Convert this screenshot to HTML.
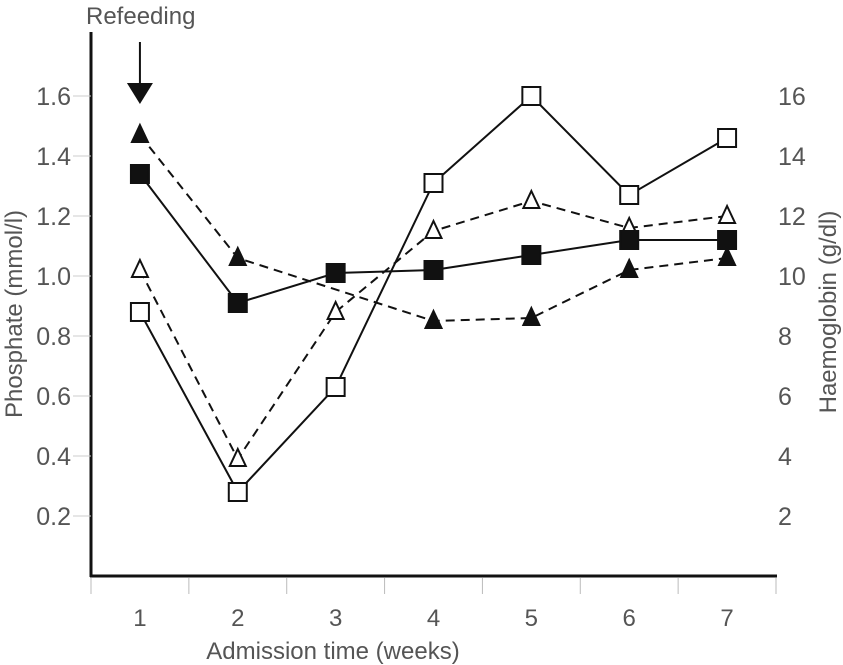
<!DOCTYPE html>
<html><head><meta charset="utf-8"><style>
html,body{margin:0;padding:0;background:#fff;}
svg{display:block;font-family:"Liberation Sans Narrow","Liberation Sans",sans-serif;}
text{fill:#555;}
</style></head><body>
<svg id="chart" width="843" height="665" viewBox="0 0 843 665" xmlns="http://www.w3.org/2000/svg"></svg>
<script>
const weeks = [1,2,3,4,5,6,7];
const leftTicks = [0.2,0.4,0.6,0.8,1.0,1.2,1.4,1.6];
const rightTicks = [2,4,6,8,10,12,14,16];
const phosFilledSquare = [1.34,0.91,1.01,1.02,1.07,1.12,1.12];
const phosFilledTriangle = [1.47,1.06,null,0.85,0.86,1.02,1.06];
const hbOpenSquare = [8.8,2.8,6.3,13.1,16.0,12.7,14.6];
const hbOpenTriangle = [10.2,3.9,8.8,11.5,12.5,11.6,12.0];

const NS="http://www.w3.org/2000/svg";
const svg=document.getElementById('chart');
const X0=91,X1=776,Y0=576,YTOP=32;
const pyL=v=>Y0-v*300;           // phosphate (mmol/l)
const pyR=v=>Y0-v*30;            // haemoglobin (g/dl)
const px=w=>X0+(w-0.5)*(X1-X0)/7;
function el(tag,attrs,parent){const e=document.createElementNS(NS,tag);for(const k in attrs)e.setAttribute(k,attrs[k]);(parent||svg).appendChild(e);return e;}

// axes
let a=el('line',{x1:X0,y1:YTOP,x2:X0,y2:Y0+1,stroke:'#111','stroke-width':3});


a=el('line',{x1:X0-1,y1:Y0,x2:X1+1,y2:Y0,stroke:'#111','stroke-width':3});


for(let i=0;i<=7;i++){
  const x=X0+i*(X1-X0)/7;
  const t=el('line',{x1:x,y1:Y0+2,x2:x,y2:Y0+18,stroke:'#bbb','stroke-width':1});
  
  
}
weeks.forEach(w=>{
  const t=el('text',{x:px(w),y:626,'text-anchor':'middle','font-size':24});
  t.textContent=w;
  
  
});
leftTicks.forEach(v=>{
  const t=el('text',{x:71,y:pyL(v)+9,'text-anchor':'end','font-size':25});
  t.textContent=v.toFixed(1);
  
  
  const m=el('line',{x1:73,y1:pyL(v),x2:X0,y2:pyL(v),stroke:'#ccc','stroke-width':1});
  
  
});
rightTicks.forEach(v=>{
  const t=el('text',{x:778,y:pyR(v)+9,'text-anchor':'start','font-size':25});
  t.textContent=v;
  
  
});
let t=el('text',{x:333,y:659,'text-anchor':'middle','font-size':24});
t.textContent='Admission time (weeks)';


t=el('text',{x:0,y:0,'text-anchor':'middle','font-size':24,transform:'translate(22,314) rotate(-90)'});
t.textContent='Phosphate (mmol/l)';


t=el('text',{x:0,y:0,'text-anchor':'middle','font-size':24,transform:'translate(836,312) rotate(-90)'});
t.textContent='Haemoglobin (g/dl)';


t=el('text',{x:86,y:24,'font-size':24});
t.textContent='Refeeding';


const ax=px(1);
a=el('line',{x1:ax,y1:42,x2:ax,y2:86,stroke:'#111','stroke-width':2});


a=el('polygon',{points:`${ax-13},83 ${ax+13},83 ${ax},104`,fill:'#111'});



function series(vals,yf,dashed,marker,filled,name){
  const g=el('g',{});
  
  
  const pts=[];vals.forEach((v,i)=>{if(v!==null)pts.push([px(weeks[i]),yf(v)]);});
  const l=el('polyline',{points:pts.map(p=>p.join(',')).join(' '),fill:'none',stroke:'#111','stroke-width':2,'stroke-dasharray':dashed?'9,6':'none'},g);
  
  
  pts.forEach(([x,y])=>{
    let m;
    if(marker==='square'){
      m=el('rect',{x:x-9,y:y-9,width:18,height:18,fill:filled?'#111':'#fff',stroke:'#111','stroke-width':2},g);
    }else{
      m=el('polygon',{points:`${x},${y-10} ${x+8},${y+7} ${x-8},${y+7}`,fill:filled?'#111':'#fff',stroke:'#111','stroke-width':2},g);
    }
    
    
  });
}
series(hbOpenTriangle,pyR,true,'triangle',false,'haemoglobin-open-triangle-series');
series(phosFilledTriangle,pyL,true,'triangle',true,'phosphate-filled-triangle-series');
series(hbOpenSquare,pyR,false,'square',false,'haemoglobin-open-square-series');
series(phosFilledSquare,pyL,false,'square',true,'phosphate-filled-square-series');
</script>
</body></html>
